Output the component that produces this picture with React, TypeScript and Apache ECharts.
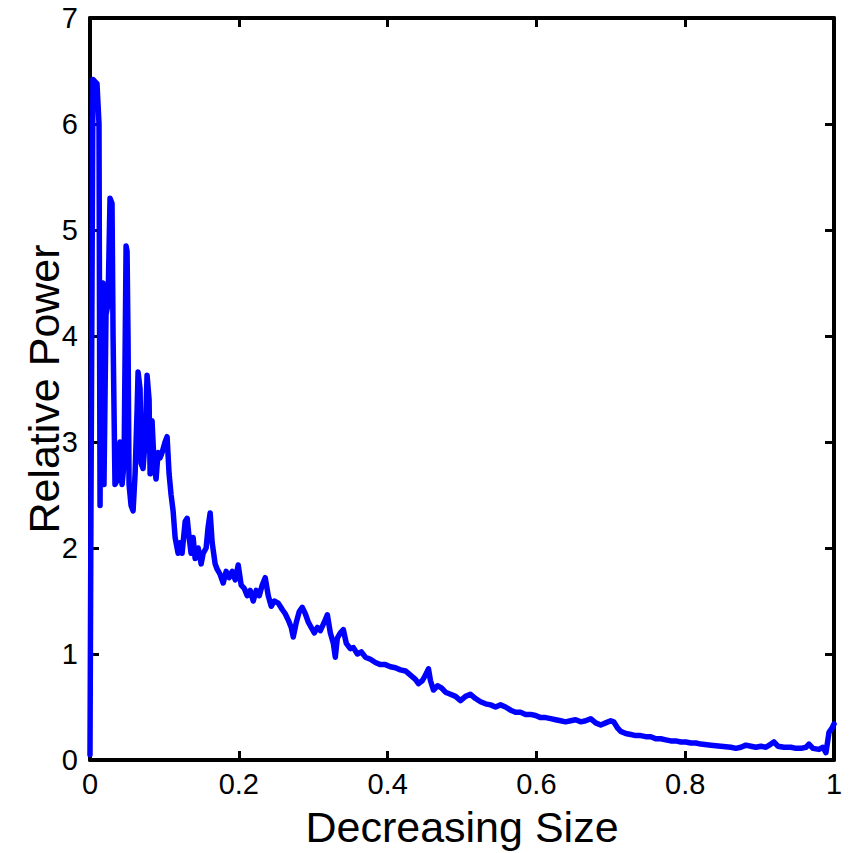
import React, { useEffect, useRef } from "react";
import * as echarts from "echarts";

const xValues: number[] = [
  0, 0.0013, 0.0027, 0.004, 0.0067, 0.0094, 0.0121, 0.0135, 0.0148, 0.0175,
  0.0188, 0.0215, 0.0242, 0.0269, 0.0296, 0.031, 0.0336, 0.0377, 0.0404, 0.0431,
  0.0458, 0.0485, 0.0498, 0.0511, 0.0525, 0.0552, 0.0579, 0.0606, 0.0633, 0.0646,
  0.0673, 0.0686, 0.0713, 0.074, 0.0767, 0.0794, 0.0808, 0.0834, 0.0861, 0.0888,
  0.0915, 0.0942, 0.0969, 0.1009, 0.1036, 0.1063, 0.109, 0.1117, 0.1144, 0.1184,
  0.1211, 0.1238, 0.1279, 0.1306, 0.1332, 0.1359, 0.1386, 0.1413, 0.1454, 0.1494,
  0.1521, 0.1561, 0.1588, 0.1615, 0.1642, 0.1682, 0.1709, 0.175, 0.179, 0.183,
  0.1871, 0.1911, 0.1952, 0.1992, 0.2032, 0.2073, 0.2113, 0.2153, 0.2194, 0.2234,
  0.2275, 0.2315, 0.2355, 0.2396, 0.2436, 0.2476, 0.253, 0.2584, 0.2624, 0.2665,
  0.2705, 0.2732, 0.2773, 0.2813, 0.2853, 0.2894, 0.2934, 0.2974, 0.3015, 0.3055,
  0.3096, 0.3149, 0.319, 0.323, 0.3271, 0.3297, 0.3324, 0.3365, 0.3405, 0.3445,
  0.3499, 0.354, 0.3594, 0.3647, 0.3701, 0.3769, 0.3836, 0.3903, 0.397, 0.4038,
  0.4105, 0.4172, 0.424, 0.4307, 0.4374, 0.4415, 0.4468, 0.4509, 0.4549, 0.4576,
  0.4616, 0.467, 0.4724, 0.4778, 0.4845, 0.4913, 0.498, 0.5047, 0.5114, 0.5182,
  0.5249, 0.5316, 0.5384, 0.5451, 0.5518, 0.5585, 0.5653, 0.572, 0.5787, 0.5855,
  0.5922, 0.5989, 0.6057, 0.6124, 0.6191, 0.6258, 0.6326, 0.6393, 0.646, 0.6528,
  0.6595, 0.6662, 0.6729, 0.6797, 0.6864, 0.6931, 0.6999, 0.7039, 0.7093, 0.7133,
  0.72, 0.7268, 0.7335, 0.7402, 0.747, 0.7537, 0.7604, 0.7672, 0.7739, 0.7806,
  0.7873, 0.7941, 0.8008, 0.8075, 0.8143, 0.821, 0.8345, 0.8479, 0.8614, 0.8681,
  0.8748, 0.8816, 0.8883, 0.895, 0.9017, 0.9085, 0.9152, 0.9192, 0.9246, 0.9327,
  0.9421, 0.9489, 0.9556, 0.9623, 0.9663, 0.9717, 0.9798, 0.9852, 0.9892, 0.9933,
  0.9973, 1.0,
];

const powerValues: number[] = [
  0.05, 2.4, 4.5, 6.42, 6.4, 6.38, 6.0, 2.4, 4.4, 4.5,
  2.6, 4.2, 4.3, 5.3, 5.25, 4.0, 2.6, 2.65, 3.0, 2.6,
  2.8, 4.85, 4.8, 4.0, 2.6, 2.4, 2.35, 2.7, 3.3, 3.66,
  3.5, 2.8, 2.75, 3.0, 3.63, 3.4, 2.7, 3.2, 2.8, 2.65,
  2.9, 2.85, 2.9, 3.0, 3.05, 2.7, 2.5, 2.35, 2.1, 1.95,
  2.05, 1.95, 2.25, 2.28, 2.1, 1.95, 2.1, 1.9, 2.0, 1.85,
  1.95, 2.0, 2.2, 2.33, 2.05, 1.85, 1.8, 1.75, 1.67, 1.78,
  1.72, 1.78, 1.7, 1.84, 1.65, 1.62, 1.55, 1.6, 1.5, 1.6,
  1.55, 1.65, 1.72, 1.55, 1.45, 1.5, 1.48, 1.42, 1.38, 1.32,
  1.25, 1.16, 1.3, 1.4, 1.44, 1.38, 1.3, 1.25, 1.2, 1.25,
  1.22, 1.3, 1.37, 1.2, 1.1, 0.97, 1.15, 1.2, 1.23, 1.1,
  1.05, 1.06, 1.0, 1.02, 0.97, 0.95, 0.92, 0.9, 0.9, 0.88,
  0.87, 0.85, 0.84, 0.8, 0.76, 0.72, 0.75, 0.8, 0.86, 0.75,
  0.66, 0.7, 0.68, 0.64, 0.62, 0.6, 0.56, 0.6, 0.62, 0.58,
  0.55, 0.53, 0.52, 0.5, 0.52, 0.5, 0.47, 0.45, 0.45, 0.43,
  0.43, 0.42, 0.4, 0.4, 0.39, 0.38, 0.37, 0.36, 0.37, 0.38,
  0.36, 0.37, 0.39, 0.35, 0.33, 0.35, 0.37, 0.36, 0.3, 0.27,
  0.25, 0.24, 0.23, 0.23, 0.22, 0.22, 0.2, 0.2, 0.19, 0.18,
  0.18, 0.17, 0.17, 0.16, 0.16, 0.15, 0.14, 0.13, 0.12, 0.11,
  0.12, 0.14, 0.13, 0.12, 0.13, 0.12, 0.15, 0.17, 0.13, 0.12,
  0.12, 0.11, 0.11, 0.12, 0.15, 0.11, 0.1, 0.12, 0.07, 0.26,
  0.3, 0.34,
];

const xTickLabels = ["0", "0.2", "0.4", "0.6", "0.8", "1"];
const yTickLabels = ["0", "1", "2", "3", "4", "5", "6", "7"];

const FONT = "'Liberation Sans', Arial, Helvetica, sans-serif";

export default function App() {
  const ref = useRef<HTMLDivElement>(null);

  useEffect(() => {
    if (!ref.current) return;
    const chart = echarts.init(ref.current, undefined, { renderer: "svg" });
    const data = xValues.map((x, i) => [x, powerValues[i]]);
    const axisLine = { show: true, onZero: false, lineStyle: { color: "#000", width: 4 } };
    const axisTick = { show: true, inside: true, length: 9, lineStyle: { color: "#000", width: 3 } };
    const xLabelFmt = (v: number) => {
      const idx = Math.round(v / 0.2);
      return xTickLabels[idx] ?? "";
    };
    const yLabelFmt = (v: number) => yTickLabels[Math.round(v)] ?? "";
    chart.setOption({
      animation: false,
      backgroundColor: "#ffffff",
      grid: { left: 90, right: 15, top: 18, bottom: 90, containLabel: false },
      xAxis: [
        {
          type: "value",
          position: "bottom",
          min: 0,
          max: 1,
          interval: 0.2,
          axisLine,
          axisTick,
          splitLine: { show: false },
          axisLabel: { color: "#000", fontSize: 29, fontFamily: FONT, margin: 9, formatter: xLabelFmt },
          name: "Decreasing Size",
          nameLocation: "middle",
          nameGap: 45,
          nameMoveOverlap: false,
          nameTextStyle: { color: "#000", fontSize: 43, fontFamily: FONT },
        },
        {
          type: "value",
          position: "top",
          min: 0,
          max: 1,
          interval: 0.2,
          axisLine,
          axisTick,
          splitLine: { show: false },
          axisLabel: { show: false },
        },
      ],
      yAxis: [
        {
          type: "value",
          position: "left",
          min: 0,
          max: 7,
          interval: 1,
          axisLine,
          axisTick,
          splitLine: { show: false },
          axisLabel: { color: "#000", fontSize: 29, fontFamily: FONT, margin: 12, formatter: yLabelFmt },
          name: "Relative Power",
          nameLocation: "middle",
          nameGap: 25,
          nameMoveOverlap: false,
          nameTextStyle: { color: "#000", fontSize: 43, fontFamily: FONT },
        },
        {
          type: "value",
          position: "right",
          min: 0,
          max: 7,
          interval: 1,
          axisLine,
          axisTick,
          splitLine: { show: false },
          axisLabel: { show: false },
        },
      ],
      series: [
        {
          type: "line",
          xAxisIndex: 0,
          yAxisIndex: 0,
          data,
          showSymbol: false,
          symbol: "none",
          lineStyle: { color: "#0000ff", width: 5.5, join: "round", cap: "round" },
          z: 1,
        },
      ],
    });
    return () => chart.dispose();
  }, []);

  return (
    <div
      ref={ref}
      style={{ position: "absolute", left: 0, top: 0, width: 849, height: 853, background: "#fff" }}
    />
  );
}
